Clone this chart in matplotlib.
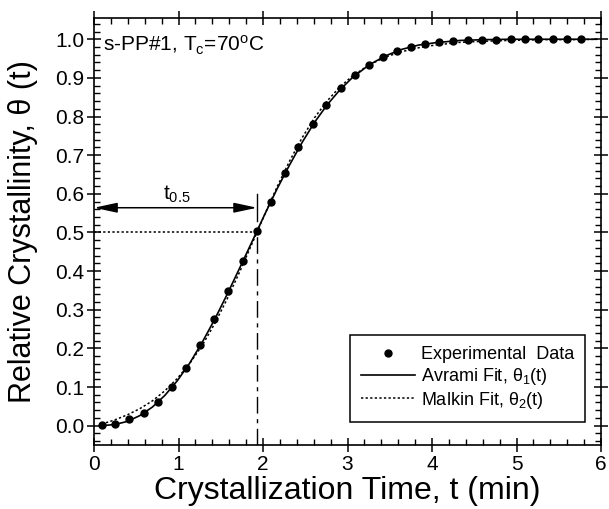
import matplotlib
matplotlib.use('Agg')
import matplotlib.pyplot as plt
from matplotlib.ticker import MultipleLocator, FormatStrFormatter

plt.rcParams['font.family'] = ['Liberation Sans', 'DejaVu Sans']
plt.rcParams['mathtext.default'] = 'regular'

# experimental points (one every 10 s)
exp_t = [0.09, 0.25, 0.42, 0.59, 0.76, 0.92, 1.09, 1.25, 1.42, 1.59, 1.76, 1.93,
         2.09, 2.26, 2.42, 2.59, 2.75, 2.92, 3.09, 3.25, 3.42, 3.59, 3.75, 3.92,
         4.08, 4.25, 4.43, 4.59, 4.76, 4.93, 5.10, 5.26, 5.43, 5.60, 5.76]
exp_theta = [0.002, 0.005, 0.017, 0.033, 0.062, 0.100, 0.150, 0.208, 0.275, 0.348,
             0.425, 0.504, 0.580, 0.654, 0.722, 0.781, 0.831, 0.875, 0.908, 0.933,
             0.953, 0.970, 0.979, 0.987, 0.993, 0.995, 0.997, 0.998, 0.999, 1.000,
             1.000, 1.000, 1.000, 1.000, 1.000]

# fitted curves
fit_t = [0.09, 0.246, 0.394, 0.542, 0.690, 0.837, 0.985, 1.133, 1.281, 1.428, 1.576,
         1.724, 1.872, 2.019, 2.167, 2.315, 2.463, 2.610, 2.758, 2.906, 3.054, 3.251,
         3.448, 3.645, 3.842, 4.039, 4.334, 4.630, 4.925, 5.319, 5.713, 5.95]
avrami = [0.000, 0.003, 0.011, 0.026, 0.048, 0.078, 0.116, 0.162, 0.216, 0.275, 0.340,
          0.408, 0.477, 0.546, 0.613, 0.675, 0.733, 0.785, 0.830, 0.868, 0.900, 0.933,
          0.957, 0.974, 0.985, 0.991, 0.997, 0.999, 1.000, 1.000, 1.000, 1.000]
malkin = [0.004, 0.015, 0.028, 0.044, 0.064, 0.090, 0.122, 0.161, 0.208, 0.264, 0.328,
          0.398, 0.472, 0.546, 0.618, 0.685, 0.745, 0.797, 0.840, 0.876, 0.904, 0.933,
          0.954, 0.968, 0.978, 0.985, 0.992, 0.995, 0.997, 0.999, 0.999, 1.000]

t_half = 1.93

fig = plt.figure(figsize=(6.09, 5.09), dpi=100)
ax = fig.add_axes([94 / 609, 1 - 445 / 509, 507 / 609, 427 / 509])

ax.plot(fit_t, avrami, color='black', lw=1.2, label=r'Avrami Fit, θ$_1$(t)')
ax.plot(fit_t, malkin, color='black', lw=1.1, linestyle=(0, (1.5, 1.5)),
        label=r'Malkin Fit, θ$_2$(t)')
ax.plot(exp_t, exp_theta, 'o', color='black', ms=5, zorder=5,
        label='Experimental  Data')

# t0.5 construction
ax.plot([0, t_half], [0.5, 0.5], color='black', lw=1.1, linestyle=(0, (1.5, 1.5)))
ax.plot([t_half, t_half], [-0.05, 0.49], color='black', lw=1.0,
        linestyle=(0, (12, 4, 3, 4)))
ax.plot([t_half, t_half], [0.53, 0.60], color='black', lw=1.0)
ax.annotate('', xy=(0, 0.564), xytext=(t_half, 0.564),
            arrowprops=dict(arrowstyle='<|-|>,head_length=1.4,head_width=0.3',
                            color='black', lw=1.1, mutation_scale=10,
                            shrinkA=0, shrinkB=0))
ax.text(0.98, 0.570, 't$_{0.5}$', fontsize=15, ha='center', va='bottom')

ax.text(0.11, 0.985, 's-PP#1, T$_c$=70$^o$C', fontsize=15, ha='left', va='center')

ax.set_xlim(0, 6)
ax.set_ylim(-0.05, 1.055)
ax.xaxis.set_major_locator(MultipleLocator(1))
ax.xaxis.set_minor_locator(MultipleLocator(0.2))
ax.yaxis.set_major_locator(MultipleLocator(0.1))
ax.yaxis.set_minor_locator(MultipleLocator(0.02))
ax.yaxis.set_major_formatter(FormatStrFormatter('%.1f'))
ax.tick_params(which='major', direction='inout', length=10, width=1.1,
               top=True, right=True, labelsize=15, pad=2)
ax.tick_params(which='minor', direction='in', length=4, width=1.0,
               top=True, right=True)
for s in ax.spines.values():
    s.set_linewidth(1.2)

ax.set_xlabel('Crystallization Time, t (min)', fontsize=23)
ax.set_ylabel('Relative Crystallinity, θ (t)', fontsize=22)
ax.xaxis.label.set_va('center')
ax.yaxis.label.set_va('center')
ax.xaxis.set_label_coords(0.5, -0.108)
ax.yaxis.set_label_coords(-0.14, 0.5)

h, l = ax.get_legend_handles_labels()
order = [2, 0, 1]
leg = ax.legend([h[i] for i in order], [l[i] for i in order], loc='lower right',
                bbox_to_anchor=(0.968, 0.055), borderaxespad=0, fontsize=13,
                fancybox=False, edgecolor='black', framealpha=1,
                handlelength=3.0, handletextpad=0.3, labelspacing=0.15,
                borderpad=0.6)
leg.get_frame().set_linewidth(1.1)

fig.savefig('out.png', dpi=100)
